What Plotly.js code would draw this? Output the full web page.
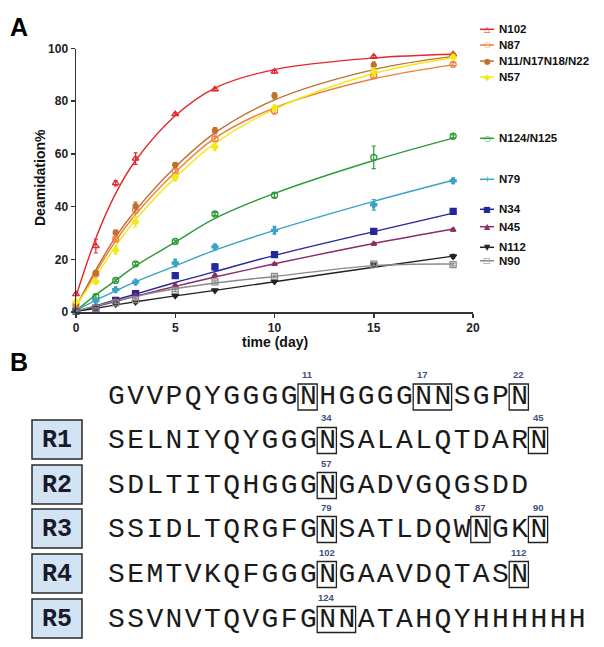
<!DOCTYPE html>
<html><head><meta charset="utf-8">
<script src="https://cdn.plot.ly/plotly-3.0.1.min.js"></script>
<style>
html,body{margin:0;padding:0;background:#fff}
#chart{width:604px;height:647px}
text.annotation-text[style*="Cousine"]{letter-spacing:2.4px}
</style>
</head><body><div id="chart"></div>
<script>
const W = 604, H = 647;

// ---------- DATA (panel A) ----------
const times = [0, 1, 2, 3, 5, 7, 10, 15, 19];
const xTicks = [0, 5, 10, 15, 20];
const yTicks = [0, 20, 40, 60, 80, 100];

const n102    = [6.8, 25.0, 48.9, 58.2, 75.1, 84.5, 91.2, 96.9, 97.8];
const n102Err = [0.5, 2.6, 1.0, 2.2, 0.5, 0.5, 0.5, 0.5, 0.5];
const n102Fit = [6.0, 28.0, 45.0, 57.5, 74.5, 85.0, 92.0, 96.4, 97.8];

const n87    = [2.7, 14.4, 27.7, 38.7, 53.5, 65.7, 76.3, 89.7, 94.0];
const n87Err = [0.4, 0.8, 0.8, 1.0, 0.8, 1.0, 1.0, 0.8, 0.6];
const n87Fit = [2.0, 15.0, 27.0, 37.0, 53.0, 66.0, 77.5, 88.5, 93.8];

const n11    = [3.0, 14.9, 30.2, 40.2, 55.8, 68.8, 82.1, 93.7, 97.5];
const n11Err = [0.5, 0.8, 0.8, 1.5, 0.8, 1.2, 1.2, 1.2, 0.8];
const n11Fit = [2.0, 16.0, 28.5, 38.5, 55.0, 68.0, 80.5, 92.0, 97.0];

const n57    = [3.9, 11.5, 23.5, 34.2, 51.0, 62.7, 77.4, 91.2, 96.7];
const n57Err = [0.5, 0.8, 1.5, 2.0, 1.2, 1.5, 1.2, 1.5, 0.8];
const n57Fit = [2.5, 13.5, 25.0, 35.0, 51.0, 64.0, 77.0, 90.5, 96.5];

const n124    = [0.5, 5.8, 12.0, 18.3, 26.8, 37.2, 44.3, 58.7, 66.7];
const n124Err = [0.3, 1.0, 0.5, 0.5, 0.5, 0.5, 0.8, 4.3, 0.5];
const n124Fit = [0.5, 6.5, 12.0, 17.5, 26.5, 35.5, 45.0, 57.5, 66.0];

const n79    = [0.5, 4.3, 8.5, 11.3, 18.6, 24.7, 31.0, 40.7, 49.8];
const n79Err = [0.3, 0.5, 0.5, 0.5, 1.5, 1.0, 1.5, 2.0, 1.0];
const n79Fit = [0.5, 4.5, 8.0, 11.5, 17.5, 23.5, 31.0, 42.0, 50.0];

const n34    = [0.3, 1.5, 4.4, 7.0, 13.8, 17.1, 21.8, 30.6, 38.2];
const n34Err = [0.3, 0.3, 0.5, 0.5, 0.5, 1.2, 0.8, 0.8, 1.0];
const n34Fit = [0.2, 2.3, 4.6, 6.8, 11.2, 15.3, 21.5, 30.5, 37.5];

const n45    = [0.3, 2.0, 4.5, 6.3, 10.1, 13.9, 18.2, 25.9, 31.2];
const n45Err = [0.2, 0.3, 0.3, 0.4, 0.4, 0.5, 0.5, 0.5, 0.5];
const n45Fit = [0.2, 2.0, 4.0, 6.0, 9.7, 13.3, 18.3, 26.0, 31.5];

const n112    = [0.3, 1.5, 3.0, 3.8, 6.2, 8.2, 11.6, 18.0, 21.1];
const n112Err = [0.2, 0.3, 0.3, 0.4, 0.4, 0.4, 0.5, 0.5, 0.8];
const n112Fit = [0.2, 1.4, 2.7, 3.9, 6.1, 8.2, 11.5, 17.0, 21.2];

const n90    = [0.5, 1.5, 3.5, 4.7, 8.2, 11.4, 13.5, 18.2, 18.0];
const n90Err = [0.2, 0.3, 0.3, 0.4, 0.4, 0.4, 0.5, 0.5, 0.5];
const n90Fit = [0.3, 2.3, 4.2, 5.9, 8.8, 11.0, 13.5, 17.6, 18.2];

const seriesNames  = ["N102", "N87", "N11/N17N18/N22", "N57", "N124/N125", "N79", "N34", "N45", "N112", "N90"];
const seriesValues = [n102, n87, n11, n57, n124, n79, n34, n45, n112, n90];
const seriesErrors = [n102Err, n87Err, n11Err, n57Err, n124Err, n79Err, n34Err, n45Err, n112Err, n90Err];
const seriesFits   = [n102Fit, n87Fit, n11Fit, n57Fit, n124Fit, n79Fit, n34Fit, n45Fit, n112Fit, n90Fit];

// ---------- DATA (panel B) ----------
const seqRows = [
  "GVVPQYGGGGNHGGGGNNSGPN",
  "SELNIYQYGGGNSALALQTDARN",
  "SDLTITQHGGGNGADVGQGSDD",
  "SSIDLTQRGFGNSATLDQWNGKN",
  "SEMTVKQFGGGNGAAVDQTASN",
  "SSVNVTQVGFGNNATAHQYHHHHHH"
];
const rowLabels = ["", "R1", "R2", "R3", "R4", "R5"];
// [char index, box length in chars, site number]
const boxedSites = [
  [[10, 1, "11"], [16, 2, "17"], [21, 1, "22"]],
  [[11, 1, "34"], [22, 1, "45"]],
  [[11, 1, "57"]],
  [[11, 1, "79"], [19, 1, "87"], [22, 1, "90"]],
  [[11, 1, "102"], [21, 1, "112"]],
  [[11, 2, "124"]]
];

// ---------- STYLES / LAYOUT CONSTANTS ----------
const colors  = ["#e3262b", "#f07f3c", "#c0702e", "#f3e81a", "#2d9a38", "#3aa3c3", "#23279a", "#8a2d68", "#222222", "#8a8a8a"];
const symbols = ["triangle-up-open", "circle-open", "circle", "diamond", "circle-open", "cross", "square", "triangle-up", "triangle-down", "square-open"];
const glyphs  = ["△", "○", "●", "◆", "○", "+", "■", "▲", "▼", "□"];
const markerSizes = [6, 6, 5, 5, 6, 5, 6, 5, 6, 6];
const legendY = [29.3, 45, 61, 77, 138.3, 179.3, 209.3, 226.7, 247.3, 260.7];

const plotL = 76, plotR = 473, plotT = 48.5, plotB = 312;
const seqX0 = 106, charW = 19.2;
const rowY = [396.5, 440, 485, 529, 574, 619];

const px = x => x / W;
const py = y => 1 - y / H;

const traces = [];
seriesNames.forEach((name, i) => {
  traces.push({
    x: times, y: seriesFits[i], type: "scatter", mode: "lines",
    line: {color: colors[i], width: 1.4, shape: "spline", smoothing: 1},
    showlegend: false, hoverinfo: "skip", cliponaxis: false
  });
});
seriesNames.forEach((name, i) => {
  traces.push({
    x: times, y: seriesValues[i], name: name, type: "scatter", mode: "markers",
    marker: {symbol: symbols[i], size: markerSizes[i], color: colors[i], line: {color: colors[i], width: 1.3}},
    error_y: {type: "data", array: seriesErrors[i], visible: true, color: colors[i], thickness: 1.2, width: 2},
    showlegend: false, cliponaxis: false
  });
});

const boldArial = (size, color) => ({family: "Arial, Liberation Sans, sans-serif", size: size, color: color || "#111", weight: "bold"});

const annotations = [];
const shapes = [];

// Panel labels
annotations.push({text: "A", x: px(19), y: py(27), xref: "paper", yref: "paper", showarrow: false, xanchor: "center", yanchor: "middle", font: boldArial(25, "#000")});
annotations.push({text: "B", x: px(19), y: py(362), xref: "paper", yref: "paper", showarrow: false, xanchor: "center", yanchor: "middle", font: boldArial(25, "#000")});

// Axis titles
annotations.push({text: "Deamidation%", x: px(40), y: py(178), xref: "paper", yref: "paper", showarrow: false, textangle: -90, xanchor: "center", yanchor: "middle", font: boldArial(14, "#111")});
annotations.push({text: "time (day)", x: px(274.5), y: py(342), xref: "paper", yref: "paper", showarrow: false, xanchor: "center", yanchor: "middle", font: boldArial(14, "#111")});

// Custom legend
seriesNames.forEach((name, i) => {
  shapes.push({type: "line", xref: "paper", yref: "paper", x0: px(480), x1: px(494), y0: py(legendY[i]), y1: py(legendY[i]), line: {color: colors[i], width: 1.5}});
  annotations.push({text: glyphs[i], x: px(487), y: py(legendY[i]), xref: "paper", yref: "paper", showarrow: false, xanchor: "center", yanchor: "middle",
    font: {family: "DejaVu Sans, sans-serif", size: 8, color: colors[i]}});
  annotations.push({text: name, x: px(497), y: py(legendY[i]), xref: "paper", yref: "paper", showarrow: false, xanchor: "left", yanchor: "middle", font: boldArial(11.5, "#111")});
});

// Panel B: sequences (letter-spacing via CSS on the "Cousine" family keeps a 19.2 px pitch)
const seqFont = "Cousine, Liberation Mono, Courier New, monospace";
const labelFont = "Liberation Mono, Courier New, monospace";
seqRows.forEach((seq, r) => {
  annotations.push({text: seq, x: px(seqX0), y: py(rowY[r]), xref: "paper", yref: "paper", showarrow: false, xanchor: "left", yanchor: "middle",
    font: {family: seqFont, size: 28, color: "#1a1a1a"}});
  boxedSites[r].forEach(site => {
    const x0 = seqX0 + site[0] * charW;
    const x1 = x0 + site[1] * charW;
    shapes.push({type: "rect", xref: "paper", yref: "paper", x0: px(x0), x1: px(x1), y0: py(rowY[r] + 13.5), y1: py(rowY[r] - 12.5), line: {color: "#222", width: 1.3}, fillcolor: "rgba(0,0,0,0)"});
    annotations.push({text: site[2], x: px(x0 + charW / 2), y: py(rowY[r] - 22), xref: "paper", yref: "paper", showarrow: false, xanchor: "center", yanchor: "middle",
      font: {family: "Arial, Liberation Sans, sans-serif", size: 9.5, color: "#3f4f80", weight: "bold"}});
  });
  if (rowLabels[r]) {
    shapes.push({type: "rect", xref: "paper", yref: "paper", x0: px(32), x1: px(82), y0: py(rowY[r] + 19), y1: py(rowY[r] - 20), line: {color: "#2a2a2a", width: 1.5}, fillcolor: "#d2e4f4"});
    annotations.push({text: rowLabels[r], x: px(57), y: py(rowY[r]), xref: "paper", yref: "paper", showarrow: false, xanchor: "center", yanchor: "middle",
      font: {family: labelFont, size: 25, color: "#1a1a2a", weight: "bold"}});
  }
});

const layout = {
  width: W, height: H,
  margin: {l: 0, r: 0, t: 0, b: 0},
  paper_bgcolor: "#fff", plot_bgcolor: "#fff",
  showlegend: false,
  xaxis: {
    domain: [px(plotL), px(plotR)], range: [0, 20], tickvals: xTicks, ticktext: xTicks.map(String),
    showline: true, linecolor: "#333", linewidth: 1.5, ticks: "outside", ticklen: 4, tickwidth: 1.5, tickcolor: "#333",
    showgrid: false, zeroline: false, tickfont: boldArial(12, "#222"), anchor: "y", fixedrange: true
  },
  yaxis: {
    domain: [py(plotB), py(plotT)], range: [0, 100], tickvals: yTicks, ticktext: yTicks.map(String),
    showline: true, linecolor: "#333", linewidth: 1.5, ticks: "outside", ticklen: 4, tickwidth: 1.5, tickcolor: "#333",
    showgrid: false, zeroline: false, tickfont: boldArial(12, "#222"), anchor: "x", fixedrange: true
  },
  annotations: annotations,
  shapes: shapes
};

Plotly.newPlot("chart", traces, layout, {staticPlot: true, displayModeBar: false});
</script>
</body></html>
